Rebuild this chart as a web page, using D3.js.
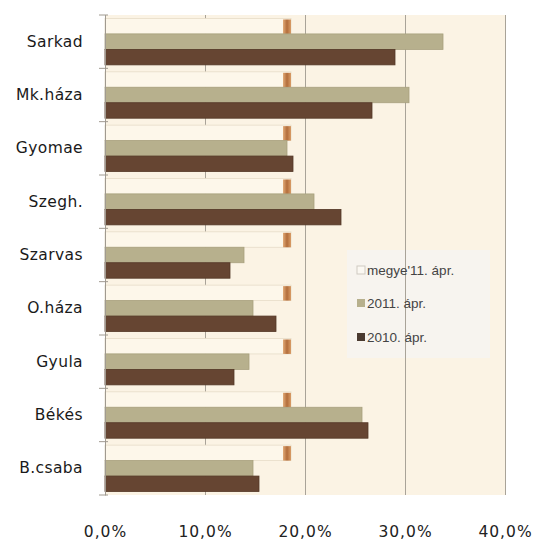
<!DOCTYPE html>
<html>
<head>
<meta charset="utf-8">
<script src="https://cdn.jsdelivr.net/npm/d3@7"></script>
<style>
  body { margin: 0; background: #fff; }
  svg { display: block; }
</style>
</head>
<body>
<svg id="chart" width="534" height="542"></svg>
<script>
  // values, in %
  const categories = ['Sarkad', 'Mk.háza', 'Gyomae', 'Szegh.', 'Szarvas', 'O.háza', 'Gyula', 'Békés', 'B.csaba'];
  const megye11 = [18.6, 18.6, 18.6, 18.6, 18.6, 18.6, 18.6, 18.6, 18.6];
  const apr2011 = [33.8, 30.4, 18.2, 20.9, 13.9, 14.8, 14.4, 25.7, 14.8];
  const apr2010 = [29.0, 26.7, 18.8, 23.6, 12.5, 17.1, 12.9, 26.3, 15.4];
  const xTicks = [0, 10, 20, 30, 40];
  const seriesNames = ["megye'11. ápr.", '2011. ápr.', '2010. ápr.'];

(function() {
  const
    pLeft = 105,
    pRight = 505,
    pTop = 15,
    pBottom = 495

  const svg = d3.select('#chart')

  const x = d3.scaleLinear().domain([0, 40]).range([pLeft, pRight])
  const y = d3.scaleBand().domain(categories).range([pTop, pBottom])
    .paddingInner(0.13).paddingOuter(0.065)
  const keys = ['megye', 'y2011', 'y2010']
  const ySub = d3.scaleBand().domain(keys).range([0, y.bandwidth()])

  const rows = categories.map(function(c, i) {
    return { cat: c, megye: megye11[i], y2011: apr2011[i], y2010: apr2010[i] }
  })

  const defs = svg.append('defs')
  const cap = defs.append('linearGradient').attr('id', 'cap')
  cap.append('stop').attr('offset', '0%').attr('stop-color', '#e2ab78')
  cap.append('stop').attr('offset', '50%').attr('stop-color', '#b26d3b')
  cap.append('stop').attr('offset', '100%').attr('stop-color', '#d99c66')

  // plot background
  svg.append('rect')
    .attr('x', pLeft).attr('y', pTop)
    .attr('width', pRight - pLeft).attr('height', pBottom - pTop)
    .attr('fill', '#fbf3e4')

  // legend background (under the grid)
  svg.append('rect')
    .attr('x', 347).attr('y', 250)
    .attr('width', 143).attr('height', 108)
    .attr('fill', '#f7f4ef')

  // grid + labels
  const fmt = d3.formatLocale({ decimal: ',', thousands: ' ', grouping: [3], currency: ['', ''] }).format('.1f')
  const xAxis = svg.append('g')
    .attr('transform', 'translate(0,' + pBottom + ')')
    .call(d3.axisBottom(x)
      .tickValues(xTicks)
      .tickSizeInner(-(pBottom - pTop))
      .tickSizeOuter(0)
      .tickPadding(31)
      .tickFormat(function(d) { return fmt(d) + '%' }))
  xAxis.select('.domain').remove()
  xAxis.selectAll('line').attr('stroke', '#a9a398').attr('stroke-width', 1)
  xAxis.selectAll('text')
    .attr('fill', '#222')
    .style('font-family', 'DejaVu Sans')
    .style('font-size', '15.5px')
    .style('letter-spacing', '1px')

  // bars
  const groups = svg.append('g').selectAll('g')
    .data(rows)
    .enter()
    .append('g')
    .attr('transform', function(d) { return 'translate(0,' + y(d.cat) + ')' })

  groups.append('rect')
    .attr('x', x(0))
    .attr('y', ySub('megye'))
    .attr('width', function(d) { return x(d.megye) - x(0) })
    .attr('height', ySub.bandwidth())
    .attr('fill', '#fdf7ea')
    .attr('stroke', '#e6dcc8')
    .attr('stroke-width', 0.8)

  groups.append('rect')
    .attr('x', function(d) { return x(d.megye) - 8 })
    .attr('y', ySub('megye') + 1)
    .attr('width', 8)
    .attr('height', ySub.bandwidth() - 1)
    .attr('fill', 'url(#cap)')

  groups.append('rect')
    .attr('x', x(0))
    .attr('y', ySub('y2011'))
    .attr('width', function(d) { return x(d.y2011) - x(0) })
    .attr('height', ySub.bandwidth())
    .attr('fill', '#b7b08d')
    .attr('stroke', '#a8a17e')
    .attr('stroke-width', 0.8)

  groups.append('rect')
    .attr('x', x(0))
    .attr('y', ySub('y2010'))
    .attr('width', function(d) { return x(d.y2010) - x(0) })
    .attr('height', ySub.bandwidth())
    .attr('fill', '#664532')
    .attr('stroke', '#543726')
    .attr('stroke-width', 0.8)

  // category axis
  const yAxis = svg.append('g')
    .attr('transform', 'translate(' + pLeft + ',0)')
    .call(d3.axisLeft(y).tickSize(0).tickPadding(22))
  yAxis.select('.domain').attr('stroke', '#a09a90')
  yAxis.selectAll('text')
    .attr('fill', '#1a1a1a')
    .style('font-family', 'DejaVu Sans')
    .style('font-size', '15.5px')
    .style('letter-spacing', '0.4px')

  const bounds = categories.map(function(c) { return y(c) - y.step() * y.paddingInner() / 2 })
  bounds.push(pBottom)
  bounds[0] = pTop
  svg.append('g').selectAll('line')
    .data(bounds)
    .enter()
    .append('line')
    .attr('x1', pLeft - 6).attr('x2', pLeft + 3)
    .attr('y1', function(d) { return d }).attr('y2', function(d) { return d })
    .attr('stroke', '#a09a90')

  // legend
  const swatch = ['#fbf8f2', '#b7b08d', '#4a3a30']
  const legend = svg.append('g').selectAll('g')
    .data(seriesNames)
    .enter()
    .append('g')
    .attr('transform', function(d, i) { return 'translate(357,' + [270, 303, 337][i] + ')' })

  legend.append('rect')
    .attr('x', 0).attr('y', -4)
    .attr('width', 8).attr('height', 8)
    .attr('fill', function(d, i) { return swatch[i] })
    .attr('stroke', function(d, i) { return i === 0 ? '#cfcac2' : 'none' })

  legend.append('text')
    .attr('x', 10)
    .attr('dy', '0.35em')
    .attr('fill', '#444')
    .style('font-family', 'Liberation Sans')
    .style('font-size', '13.5px')
    .text(function(d) { return d })
})();
</script>
</body>
</html>
